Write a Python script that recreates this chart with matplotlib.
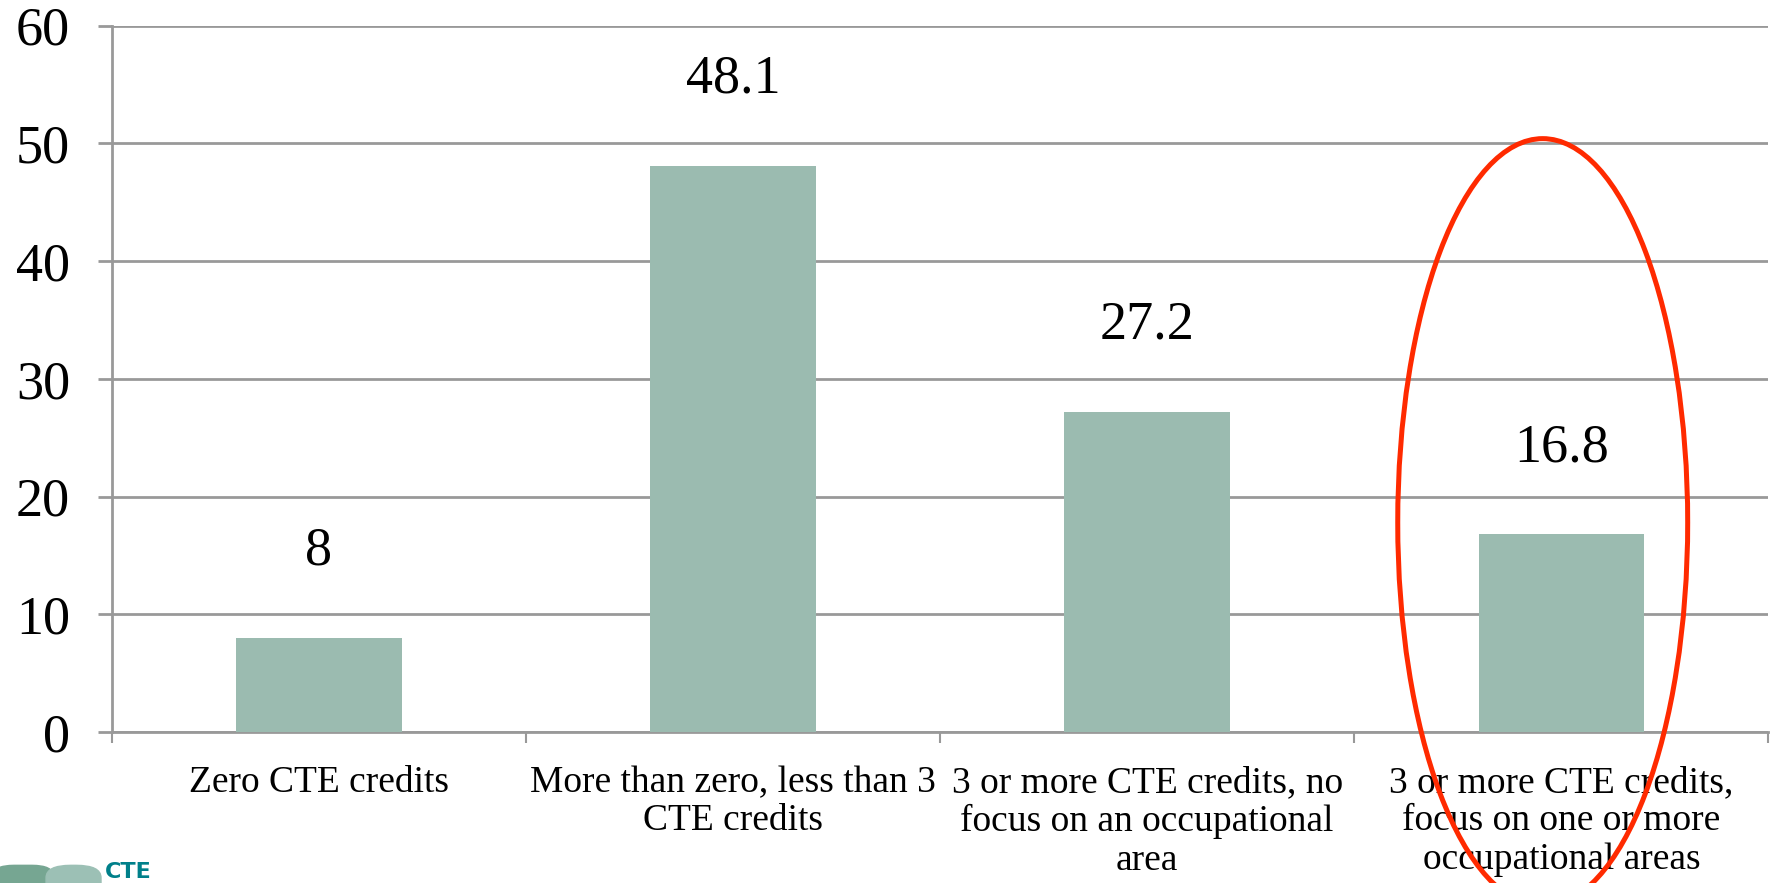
import numpy as np
import matplotlib
matplotlib.use("Agg")
import matplotlib.pyplot as plt
from matplotlib.patches import Ellipse, FancyBboxPatch

categories = ["Zero CTE credits",
              "More than zero, less than 3\nCTE credits",
              "3 or more CTE credits, no\nfocus on an occupational\narea",
              "3 or more CTE credits,\nfocus on one or more\noccupational areas"]
values = [8, 48.1, 27.2, 16.8]
value_labels = ["8", "48.1", "27.2", "16.8"]
yticks = [0, 10, 20, 30, 40, 50, 60]

barColor = "#9bbbb0"
gridColor = "#999999"

plt.rcParams['font.family'] = ['Liberation Serif', 'DejaVu Serif']

fig = plt.figure(figsize=(17.72, 8.83), dpi=100)
ax = fig.add_axes([0.063, 0.171, 0.935, 0.8])

x = np.arange(len(categories))
ax.bar(x, values, width=0.4, color=barColor, zorder=3)

# value labels above bars
for xi, v, lab in zip(x, values, value_labels):
    ax.annotate(lab, (xi, v), xytext=(0, 62), textcoords='offset points',
                ha='center', va='center', fontsize=39)

ax.set_xlim(-0.5, 3.5)
ax.set_ylim(0, 60)
ax.set_yticks(yticks)
ax.tick_params(axis='y', labelsize=39, length=10, width=2, color=gridColor, pad=20)
ax.yaxis.grid(True, color=gridColor, linewidth=2, zorder=0)

# category boundary ticks, labels at centers
ax.set_xticks(np.arange(-0.5, 4, 1))
ax.set_xticklabels([])
ax.tick_params(axis='x', which='major', length=8, width=1.5, color=gridColor)
ax.set_xticks(x, minor=True)
ax.set_xticklabels(categories, minor=True, fontsize=27, linespacing=1.15)
ax.tick_params(axis='x', which='minor', length=0, pad=24)

for s in ['top', 'right']:
    ax.spines[s].set_visible(False)
for s in ['left', 'bottom']:
    ax.spines[s].set_color(gridColor)
    ax.spines[s].set_linewidth(2)

# red ellipse highlighting last category
ell = Ellipse((2.955, 17.8), width=0.70, height=65.2, fill=False,
              edgecolor='#ff2a00', linewidth=3.6, clip_on=False, zorder=5)
ax.add_patch(ell)

# cropped logo in bottom-left corner
fig.patches.append(FancyBboxPatch((-0.004, -0.04), 0.034, 0.06,
                                  boxstyle="round,pad=0,rounding_size=0.012",
                                  transform=fig.transFigure, color="#76a692", zorder=1))
fig.patches.append(FancyBboxPatch((0.026, -0.04), 0.031, 0.06,
                                  boxstyle="round,pad=0,rounding_size=0.014",
                                  transform=fig.transFigure, color="#9cc0b5", zorder=1))
fig.text(0.059, 0.001, "CTE", fontsize=16, fontweight='bold', color="#00808a",
         family='DejaVu Sans', ha='left', va='bottom')

plt.savefig('out.png', dpi=100)
